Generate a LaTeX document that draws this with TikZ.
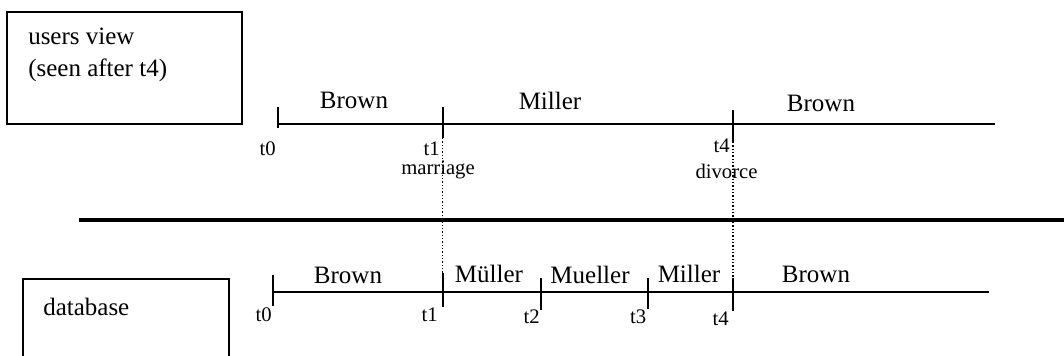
\documentclass[tikz,border=0pt]{standalone}
\usepackage{fontspec}
\setmainfont{Liberation Serif}
\begin{document}
\begin{tikzpicture}[x=0.75pt,y=-0.75pt,
  frame/.style={draw, line width=1.5pt},
  axis/.style={line width=1.5pt},
  tickmark/.style={line width=1.5pt},
  guide/.style={line width=1pt, dash pattern=on 1pt off 1.5pt},
  divider/.style={line width=3pt},
  big/.style={font=\fontsize{18.75}{22}\selectfont, inner sep=0pt},
  small/.style={font=\fontsize{15.5}{18}\selectfont, inner sep=0pt}]
\useasboundingbox (0,0) rectangle (1064,356);

% caption boxes
\draw[frame] (7,12) rectangle (242,124);
\node[big, anchor=base west] (uv1) at (28,45) {users view};
\node[big, anchor=base west] (uv2) at (28,77) {(seen after t4)};

\draw[frame] (23,362) -- (23,279) -- (229,279) -- (229,362);
\node[big, anchor=base west] (db) at (43,315) {database};

% separator between the two views
\coordinate (s0) at (79,220);
\coordinate (s1) at (1066,220);
\draw[divider] (s0) -- (s1);

% ---- users view timeline ----
\coordinate (a0) at (278,124);
\coordinate (aend) at (995,124);
\draw[axis] (a0) -- (aend);
\draw[tickmark] (278,107) -- (278,128);
\draw[tickmark] (442.5,107) coordinate (ta1t) -- (442.5,138) coordinate (ta1b);
\draw[tickmark] (733,110) coordinate (ta4t) -- (733,142) coordinate (ta4b);

\node[big, anchor=base] (ub1) at (354,109) {Brown};
\node[big, anchor=base] (um)  at (550,110) {Miller};
\node[big, anchor=base] (ub2) at (821,112) {Brown};

\node[small, anchor=base east] (ut0) at (276,156) {t0};
\node[small, anchor=base east] (ut1) at (440,156) {t1};
\node[small, anchor=base] (mar) at (438,175) {marriage};
\node[small, anchor=base east] (ut4) at (730,153) {t4};
\node[small, anchor=base] (div) at (726.5,179) {divorce};

% ---- database timeline ----
\coordinate (b0) at (273,292);
\coordinate (bend) at (989,292);
\draw[axis] (b0) -- (bend);
\draw[tickmark] (273,275) -- (273,306);
\draw[tickmark] (442.5,273) coordinate (tb1t) -- (442.5,307);
\draw[tickmark] (541,278) -- (541,310);
\draw[tickmark] (648,278) -- (648,309);
\draw[tickmark] (733,278) coordinate (tb4t) -- (733,311);

\node[big, anchor=base] (db1) at (348,283) {Brown};
\node[big, anchor=base] (dm1) at (489,282) {Müller};
\node[big, anchor=base] (dm2) at (590,283) {Mueller};
\node[big, anchor=base] (dm3) at (689,282) {Miller};
\node[big, anchor=base] (db2) at (816,282) {Brown};

\node[small, anchor=base east] (dt0) at (272,321.5) {t0};
\node[small, anchor=base east] (dt1) at (438,321.5) {t1};
\node[small, anchor=base east] (dt2) at (540,323) {t2};
\node[small, anchor=base east] (dt3) at (646.5,323) {t3};
\node[small, anchor=base east] (dt4) at (729,325) {t4};

% dotted links between corresponding events
\draw[guide] (ta1b) -- (tb1t);
\draw[guide] (ta4b) -- (tb4t);
\end{tikzpicture}
\end{document}
